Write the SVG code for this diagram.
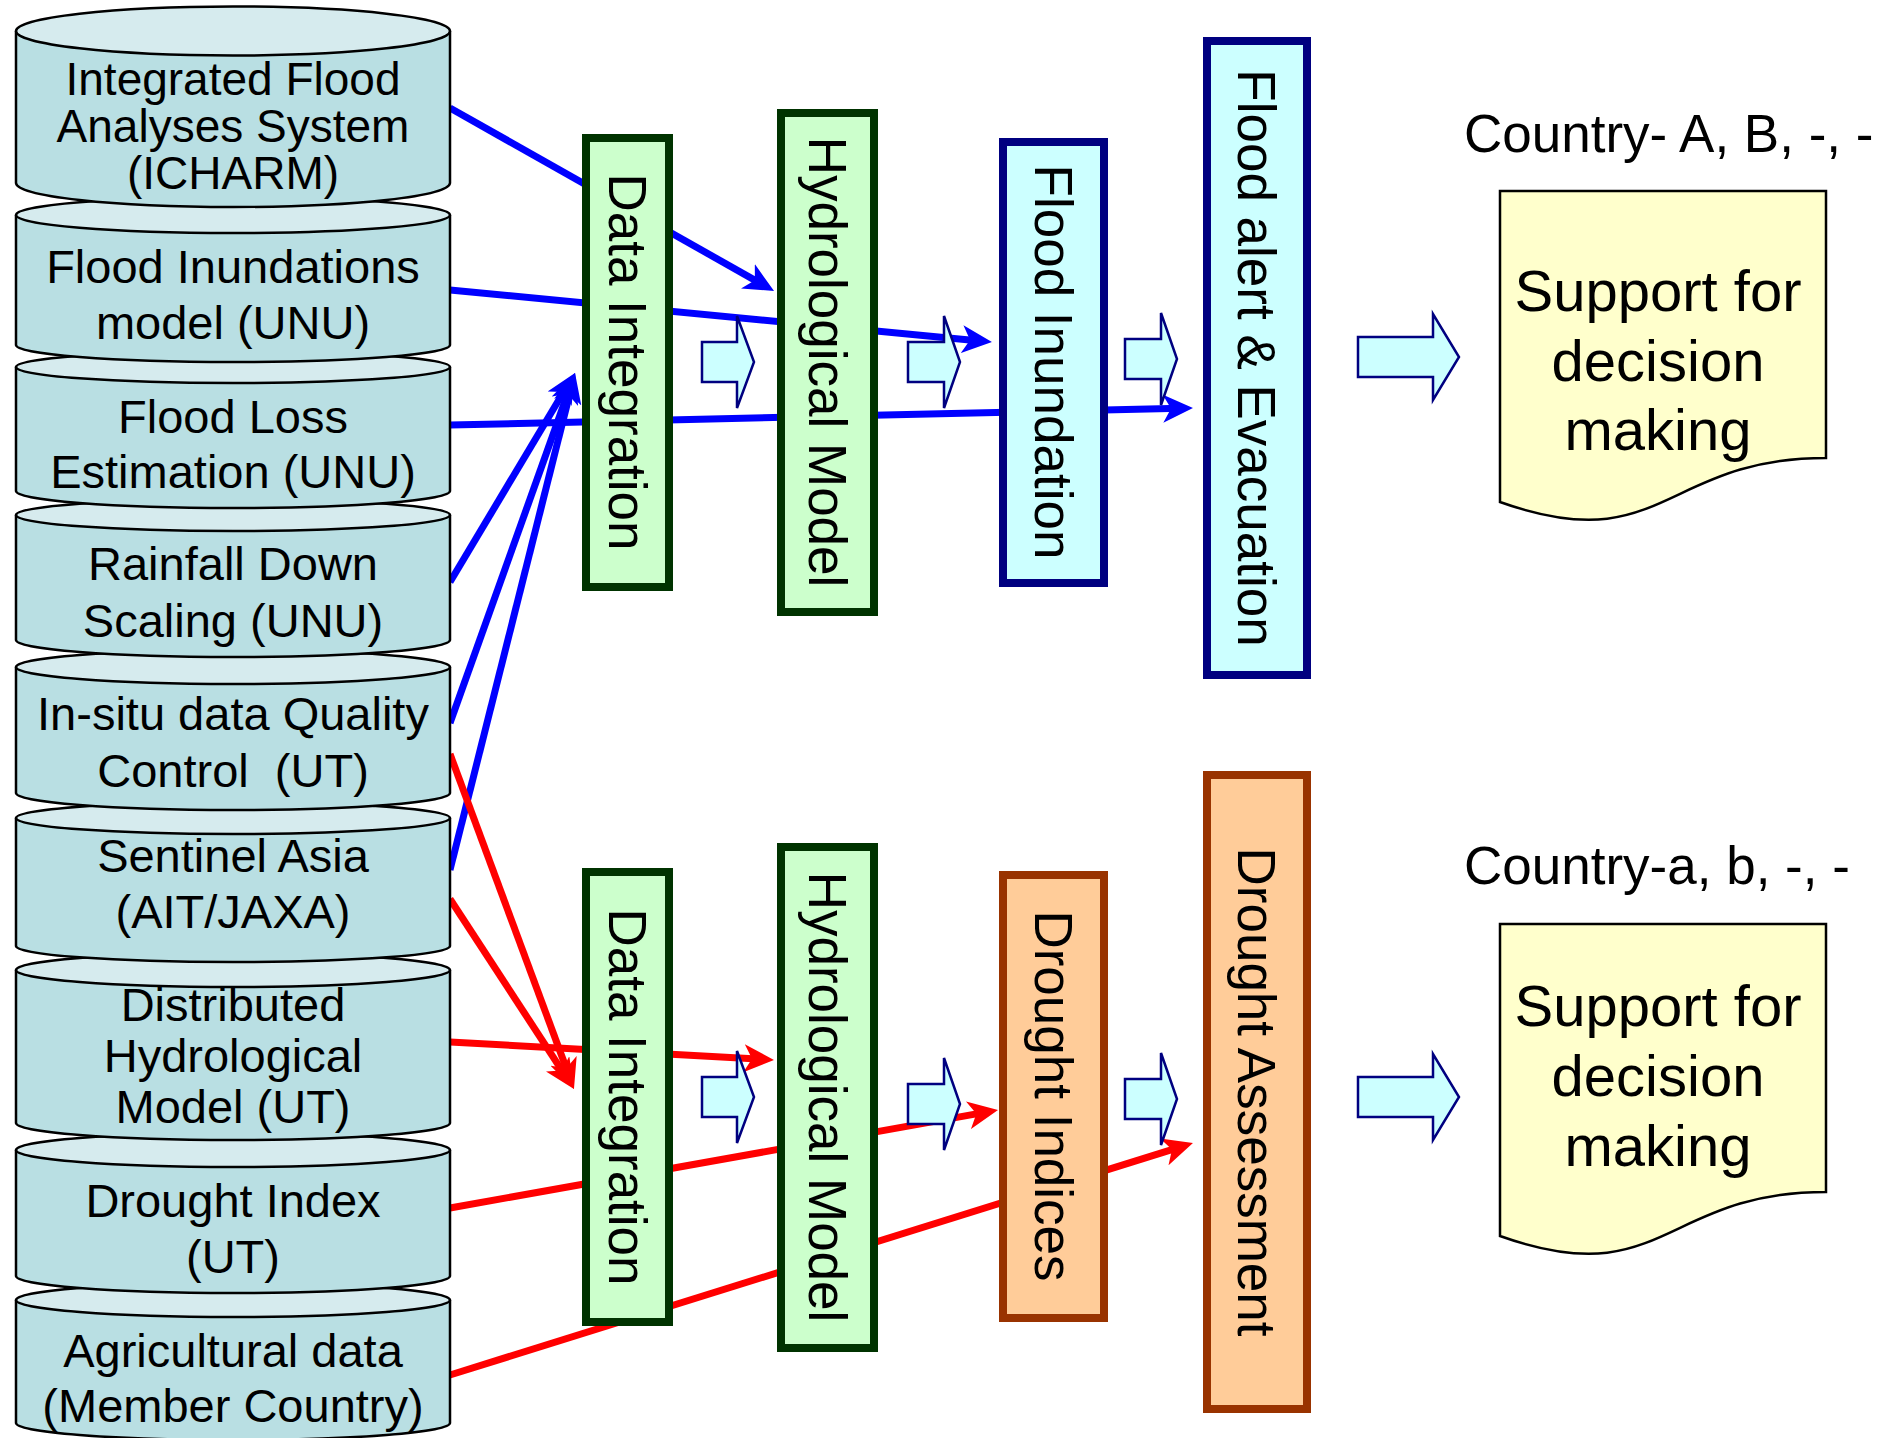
<svg xmlns="http://www.w3.org/2000/svg" width="1892" height="1438" viewBox="0 0 1892 1438">
<style>
  text { font-family: "Liberation Sans", Arial, sans-serif; fill: #000; }
  .cyl-body { fill: #B9DFE3; stroke: #000; stroke-width: 2.5; }
  .cyl-top { fill: #D6EBEE; stroke: #000; stroke-width: 2.5; }
  .cyl-text { font-size: 47px; text-anchor: middle; }
  .box-green { fill: #CCFFCC; stroke: #003300; stroke-width: 8; }
  .box-blue { fill: #CCFFFF; stroke: #000080; stroke-width: 8; }
  .box-orange { fill: #FFCC99; stroke: #993300; stroke-width: 8; }
  .vtext { font-size: 53px; text-anchor: middle; }
  .flow { fill: #CCFFFF; stroke: #000080; stroke-width: 2.5; stroke-linejoin: miter; }
  .doc { fill: #FFFFCC; stroke: #000; stroke-width: 2.5; }
  .doc-text { font-size: 58px; text-anchor: middle; }
  .label { font-size: 53px; }
  .blue { stroke: #0000FF; stroke-width: 7; fill: none; marker-end: url(#ahBlue); }
  .red { stroke: #FF0000; stroke-width: 7; fill: none; marker-end: url(#ahRed); }
</style>
<defs>
  <marker id="ahBlue" markerUnits="userSpaceOnUse" markerWidth="30" markerHeight="28" viewBox="0 0 30 28" refX="18" refY="14" orient="auto">
    <path d="M0,0 L30,14 L0,28 L8,14 Z" fill="#0000FF"/>
  </marker>
  <marker id="ahRed" markerUnits="userSpaceOnUse" markerWidth="30" markerHeight="28" viewBox="0 0 30 28" refX="18" refY="14" orient="auto">
    <path d="M0,0 L30,14 L0,28 L8,14 Z" fill="#FF0000"/>
  </marker>
</defs>

<g id="connectors">
  <line class="blue" x1="450" y1="108" x2="763.6" y2="285.1"/>
  <line class="blue" x1="450" y1="290" x2="980" y2="340.9"/>
  <line class="blue" x1="450" y1="425" x2="1181" y2="408.3"/>
  <line class="blue" x1="450" y1="582" x2="568.8" y2="383.3"/>
  <line class="blue" x1="450" y1="723" x2="571" y2="384.3"/>
  <line class="blue" x1="450" y1="870" x2="572.1" y2="384.6"/>
  <line class="red" x1="450" y1="754" x2="569.8" y2="1077.7"/>
  <line class="red" x1="450" y1="899" x2="567.4" y2="1078.9"/>
  <line class="red" x1="450" y1="1042" x2="762" y2="1059.3"/>
  <line class="red" x1="450" y1="1208" x2="986.2" y2="1112.1"/>
  <line class="red" x1="450" y1="1375" x2="1181.5" y2="1146.6"/>
</g>

<g id="cyl-agri">
  <path class="cyl-body" d="M16,1300 V1423 A217,17 0 0 0 450,1423 V1300"/>
  <ellipse class="cyl-top" cx="233" cy="1300" rx="217" ry="17"/>
  <text class="cyl-text" x="233" y="1367">Agricultural data</text>
  <text class="cyl-text" x="233" y="1422">(Member Country)</text>
</g>
<g id="cyl-drought-index">
  <path class="cyl-body" d="M16,1150 V1276 A217,17 0 0 0 450,1276 V1150"/>
  <ellipse class="cyl-top" cx="233" cy="1150" rx="217" ry="17"/>
  <text class="cyl-text" x="233" y="1217">Drought Index</text>
  <text class="cyl-text" x="233" y="1273">(UT)</text>
</g>
<g id="cyl-distributed">
  <path class="cyl-body" d="M16,970 V1123 A217,17 0 0 0 450,1123 V970"/>
  <ellipse class="cyl-top" cx="233" cy="970" rx="217" ry="17"/>
  <text class="cyl-text" x="233" y="1021">Distributed</text>
  <text class="cyl-text" x="233" y="1072">Hydrological</text>
  <text class="cyl-text" x="233" y="1123">Model (UT)</text>
</g>
<g id="cyl-sentinel">
  <path class="cyl-body" d="M16,818 V946 A217,16 0 0 0 450,946 V818"/>
  <ellipse class="cyl-top" cx="233" cy="818" rx="217" ry="16"/>
  <text class="cyl-text" x="233" y="872">Sentinel Asia</text>
  <text class="cyl-text" x="233" y="928">(AIT/JAXA)</text>
</g>
<g id="cyl-insitu">
  <path class="cyl-body" d="M16,667 V793 A217,17 0 0 0 450,793 V667"/>
  <ellipse class="cyl-top" cx="233" cy="667" rx="217" ry="17"/>
  <text class="cyl-text" x="233" y="730">In-situ data Quality</text>
  <text class="cyl-text" x="233" y="787" xml:space="preserve">Control  (UT)</text>
</g>
<g id="cyl-rainfall">
  <path class="cyl-body" d="M16,515 V640 A217,17 0 0 0 450,640 V515"/>
  <ellipse class="cyl-top" cx="233" cy="515" rx="217" ry="16"/>
  <text class="cyl-text" x="233" y="580">Rainfall Down</text>
  <text class="cyl-text" x="233" y="637">Scaling (UNU)</text>
</g>
<g id="cyl-floodloss">
  <path class="cyl-body" d="M16,367 V491 A217,17 0 0 0 450,491 V367"/>
  <ellipse class="cyl-top" cx="233" cy="367" rx="217" ry="16"/>
  <text class="cyl-text" x="233" y="433">Flood Loss</text>
  <text class="cyl-text" x="233" y="488">Estimation (UNU)</text>
</g>
<g id="cyl-inundation">
  <path class="cyl-body" d="M16,215 V345 A217,17 0 0 0 450,345 V215"/>
  <ellipse class="cyl-top" cx="233" cy="215" rx="217" ry="18"/>
  <text class="cyl-text" x="233" y="283">Flood Inundations</text>
  <text class="cyl-text" x="233" y="339">model (UNU)</text>
</g>
<g id="cyl-icharm">
  <path class="cyl-body" d="M16,31 V183 A217,24 0 0 0 450,183 V31"/>
  <ellipse class="cyl-top" cx="233" cy="31" rx="217" ry="24.5"/>
  <text class="cyl-text" x="233" y="95" style="font-size:46px">Integrated Flood</text>
  <text class="cyl-text" x="233" y="142" style="font-size:46px">Analyses System</text>
  <text class="cyl-text" x="233" y="189" style="font-size:46px">(ICHARM)</text>
</g>

<g id="data-integration-flood">
  <rect class="box-green" x="586" y="138" width="83" height="449"/>
  <text class="vtext" transform="translate(627.5,362) rotate(90)" x="0" y="19">Data Integration</text>
</g>
<g id="hydrological-model-flood">
  <rect class="box-green" x="781" y="113" width="93" height="499"/>
  <text class="vtext" transform="translate(827.5,362) rotate(90)" x="0" y="19">Hydrological Model</text>
</g>
<g id="flood-inundation">
  <rect class="box-blue" x="1003" y="142" width="101" height="441"/>
  <text class="vtext" transform="translate(1053.5,362) rotate(90)" x="0" y="19">Flood Inundation</text>
</g>
<g id="flood-alert">
  <rect class="box-blue" x="1207" y="41" width="100" height="634"/>
  <text class="vtext" transform="translate(1257,358) rotate(90)" x="0" y="19">Flood alert &amp; Evacuation</text>
</g>

<g id="data-integration-drought">
  <rect class="box-green" x="586" y="872" width="83" height="450"/>
  <text class="vtext" transform="translate(627.5,1097) rotate(90)" x="0" y="19">Data Integration</text>
</g>
<g id="hydrological-model-drought">
  <rect class="box-green" x="781" y="847" width="93" height="501"/>
  <text class="vtext" transform="translate(827.5,1097) rotate(90)" x="0" y="19">Hydrological Model</text>
</g>
<g id="drought-indices">
  <rect class="box-orange" x="1003" y="875" width="101" height="443"/>
  <text class="vtext" transform="translate(1053.5,1096) rotate(90)" x="0" y="19">Drought Indices</text>
</g>
<g id="drought-assessment">
  <rect class="box-orange" x="1207" y="775" width="100" height="634"/>
  <text class="vtext" transform="translate(1257,1092) rotate(90)" x="0" y="19">Drought Assessment</text>
</g>

<g id="flow-arrows">
  <path class="flow" d="M702,342 H737 V316 L754,362 L737,408 V382 H702 Z"/>
  <path class="flow" d="M908,342 H944 V316 L960,362 L944,408 V382 H908 Z"/>
  <path class="flow" d="M1125,339 H1161 V313 L1177,359 L1161,405 V379 H1125 Z"/>
  <path class="flow" d="M702,1077 H737 V1051 L754,1097 L737,1143 V1117 H702 Z"/>
  <path class="flow" d="M908,1084 H944 V1058 L960,1104 L944,1150 V1124 H908 Z"/>
  <path class="flow" d="M1125,1079 H1161 V1053 L1177,1099 L1161,1145 V1119 H1125 Z"/>
  <path class="flow" d="M1358,337 H1433 V314 L1459,357 L1433,400 V377 H1358 Z"/>
  <path class="flow" d="M1358,1077 H1433 V1054 L1459,1097 L1433,1140 V1117 H1358 Z"/>
</g>

<g id="label-country-upper">
  <text class="label" x="1464" y="152">Country- A, B, -, -</text>
</g>
<g id="doc-upper">
  <path class="doc" d="M1500,191 H1826 V458 C1663,458 1663,560 1500,502 Z"/>
  <text class="doc-text" x="1658" y="311">Support for</text>
  <text class="doc-text" x="1658" y="381">decision</text>
  <text class="doc-text" x="1658" y="450">making</text>
</g>

<g id="label-country-lower">
  <text class="label" x="1464" y="884">Country-a, b, -, -</text>
</g>
<g id="doc-lower">
  <path class="doc" d="M1500,924 H1826 V1192 C1663,1192 1663,1294 1500,1236 Z"/>
  <text class="doc-text" x="1658" y="1026">Support for</text>
  <text class="doc-text" x="1658" y="1096">decision</text>
  <text class="doc-text" x="1658" y="1166">making</text>
</g>
</svg>
